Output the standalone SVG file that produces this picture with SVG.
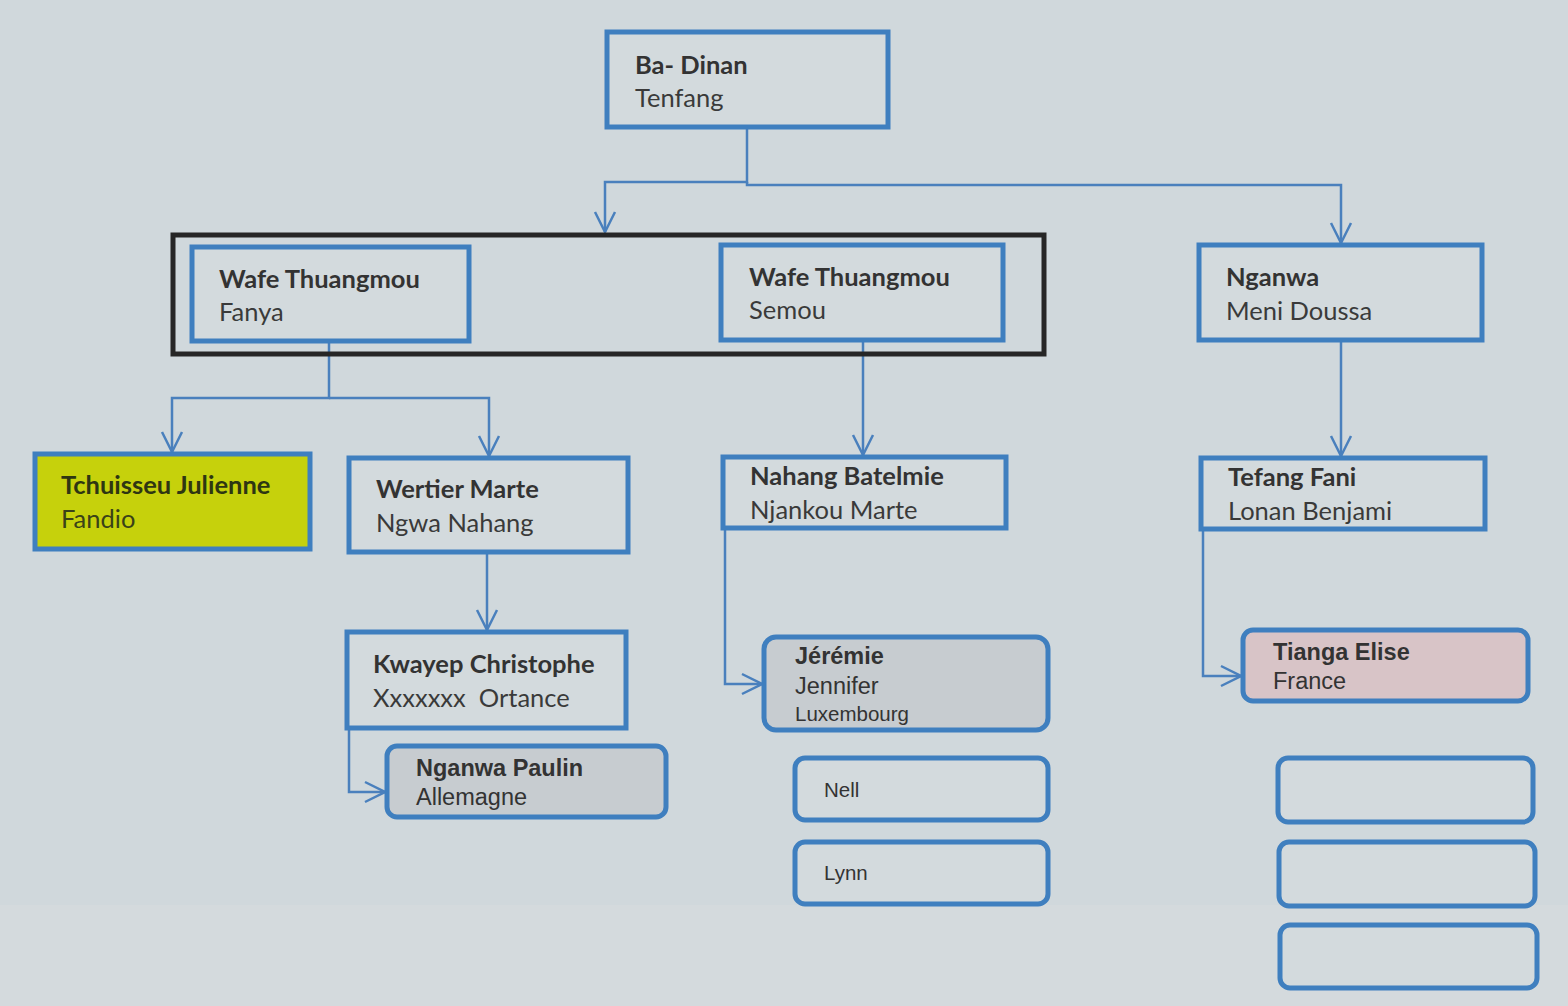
<svg xmlns="http://www.w3.org/2000/svg" width="1568" height="1006" viewBox="0 0 1568 1006">
<style>
.bg{fill:#d0d8dc}
.box{fill:#d3dadd;stroke:#3f7fbf;stroke-width:5}
.rbox{fill:#d3dadd;stroke:#3f7fbf;stroke-width:5}
.grp{fill:none;stroke:#262626;stroke-width:5}
.con{fill:none;stroke:#4a80bd;stroke-width:2.5}
.b{font-family:Lato,"Open Sans",sans-serif;font-weight:bold;font-size:25.5px;fill:#333}
.r{font-family:Lato,"Open Sans",sans-serif;font-size:25.5px;fill:#3a3a3a}
.ab{font-family:"Liberation Sans",Arial,sans-serif;font-weight:bold;font-size:23.5px;fill:#333}
.ar{font-family:"Liberation Sans",Arial,sans-serif;font-size:23.5px;fill:#333}
.as{font-family:"Liberation Sans",Arial,sans-serif;font-size:20.5px;fill:#333}
</style>
<defs>
<marker id="arr" viewBox="0 0 24 24" refX="22" refY="12" markerWidth="24" markerHeight="24" markerUnits="userSpaceOnUse" orient="auto">
<path d="M2,2 L22,12 L2,22" fill="none" stroke="#4a80bd" stroke-width="2.5"/>
</marker>
</defs>
<rect class="bg" x="0" y="0" width="1568" height="1006"/>
<rect x="0" y="905" width="1568" height="101" fill="#d4dadd"/>

<g id="connectors">
<path class="con" d="M747,127 V182 H605 V232" marker-end="url(#arr)"/>
<path class="con" d="M747,182 V185 H1341 V243" marker-end="url(#arr)"/>
<path class="con" d="M329,342 V398 H172 V452" marker-end="url(#arr)"/>
<path class="con" d="M329,398 H489 V456" marker-end="url(#arr)"/>
<path class="con" d="M863,341 V455" marker-end="url(#arr)"/>
<path class="con" d="M1341,341 V456" marker-end="url(#arr)"/>
<path class="con" d="M487,553 V630" marker-end="url(#arr)"/>
<path class="con" d="M349,729 V792 H385" marker-end="url(#arr)"/>
<path class="con" d="M725,529 V684 H762" marker-end="url(#arr)"/>
<path class="con" d="M1203,530 V676 H1241" marker-end="url(#arr)"/>
</g>

<g id="group-wafe"><rect class="grp" x="173" y="235" width="871" height="119"/></g>

<g id="ba-dinan"><rect class="box" x="607" y="32" width="281" height="95"/>
<text class="b" x="635" y="74">Ba- Dinan</text><text class="r" x="635" y="107">Tenfang</text></g>

<g id="wafe-fanya"><rect class="box" x="192" y="247" width="277" height="94"/>
<text class="b" x="219" y="288">Wafe Thuangmou</text><text class="r" x="219" y="321">Fanya</text></g>

<g id="wafe-semou"><rect class="box" x="721" y="245" width="282" height="95"/>
<text class="b" x="749" y="286">Wafe Thuangmou</text><text class="r" x="749" y="319">Semou</text></g>

<g id="nganwa-meni"><rect class="box" x="1199" y="245" width="283" height="95"/>
<text class="b" x="1226" y="286">Nganwa</text><text class="r" x="1226" y="320">Meni Doussa</text></g>

<g id="tchuisseu"><rect class="box" x="35" y="454" width="275" height="95" style="fill:#c6d10c"/>
<text class="b" x="61" y="494" style="fill:#2e3612">Tchuisseu Julienne</text><text class="r" x="61" y="528" style="fill:#3a4218">Fandio</text></g>

<g id="wertier"><rect class="box" x="349" y="458" width="279" height="94"/>
<text class="b" x="376" y="498">Wertier Marte</text><text class="r" x="376" y="532">Ngwa Nahang</text></g>

<g id="nahang"><rect class="box" x="723" y="457" width="283" height="71"/>
<text class="b" x="750" y="485">Nahang Batelmie</text><text class="r" x="750" y="519">Njankou Marte</text></g>

<g id="tefang"><rect class="box" x="1201" y="458" width="284" height="71"/>
<text class="b" x="1228" y="486">Tefang Fani</text><text class="r" x="1228" y="520">Lonan Benjami</text></g>

<g id="kwayep"><rect class="box" x="347" y="632" width="279" height="96"/>
<text class="b" x="373" y="673">Kwayep Christophe</text><text class="r" x="373" y="707" xml:space="preserve">Xxxxxxx  Ortance</text></g>

<g id="nganwa-paulin"><rect class="rbox" x="387" y="746" width="279" height="71" rx="10" style="fill:#c7ccd0"/>
<text class="ab" x="416" y="776">Nganwa Paulin</text><text class="ar" x="416" y="805">Allemagne</text></g>

<g id="jeremie"><rect class="rbox" x="764" y="637" width="284" height="93" rx="12" style="fill:#c7ccd0"/>
<text class="ab" x="795" y="664">Jérémie</text><text class="ar" x="795" y="694">Jennifer</text><text class="as" x="795" y="721">Luxembourg</text></g>

<g id="tianga"><rect class="rbox" x="1243" y="630" width="285" height="71" rx="10" style="fill:#d8c4c7"/>
<text class="ab" x="1273" y="660">Tianga Elise</text><text class="ar" x="1273" y="689">France</text></g>

<g id="nell"><rect class="rbox" x="795" y="758" width="253" height="62" rx="10"/>
<text class="as" x="824" y="797">Nell</text></g>

<g id="lynn"><rect class="rbox" x="795" y="842" width="253" height="62" rx="10"/>
<text class="as" x="824" y="880">Lynn</text></g>

<g id="empty-1"><rect class="rbox" x="1278" y="758" width="255" height="64" rx="10"/></g>
<g id="empty-2"><rect class="rbox" x="1279" y="842" width="256" height="64" rx="10"/></g>
<g id="empty-3"><rect class="rbox" x="1280" y="925" width="257" height="63" rx="10"/></g>
</svg>
